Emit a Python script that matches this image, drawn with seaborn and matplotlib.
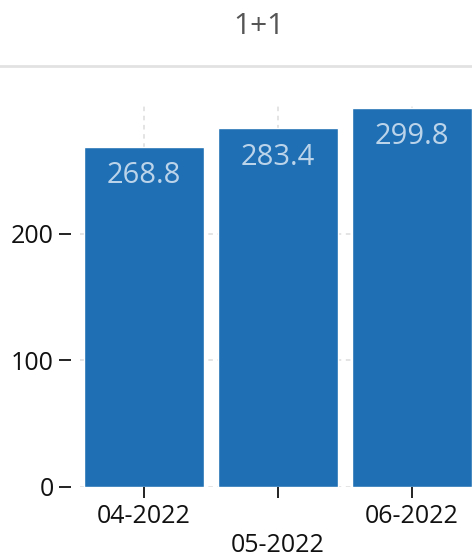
import matplotlib
matplotlib.use("Agg")
import matplotlib.pyplot as plt
import seaborn as sns
import pandas as pd

months = ["04-2022", "05-2022", "06-2022"]
values = [268.8, 283.4, 299.8]
y_ticks = [0, 100, 200]
title = "1+1"

BAR_COLOR = "#1f6fb4"
LABEL_COLOR = "#bcd4ea"


def main():
    sns.set_theme(style="white")
    plt.rcParams["font.family"] = ["Open Sans", "DejaVu Sans"]

    df = pd.DataFrame({"month": months, "value": values})

    fig = plt.figure(figsize=(4.72, 5.6), dpi=100)
    W, H = 472, 560
    ax = fig.add_axes([80 / W, 1 - 487 / H, (472 - 80) / W, (487 - 106) / H])

    sns.barplot(data=df, x="month", y="value", color=BAR_COLOR, saturation=1,
                width=0.9, ax=ax, zorder=2)

    ax.set_xlim(-0.478, 2.448)
    ax.set_ylim(0, 301)
    ax.set_yticks(y_ticks)
    ax.set_xlabel("")
    ax.set_ylabel("")

    # stagger the middle label onto a second row
    ax.set_xticks(range(len(months)))
    ax.set_xticklabels([("\n" + m) if i % 2 else m for i, m in enumerate(months)])

    ax.set_axisbelow(True)
    ax.grid(True, axis="both", color="#dddddd", linestyle=(0, (3, 3)), linewidth=1.1)

    for s in ax.spines.values():
        s.set_visible(False)
    ax.spines["left"].set_position(("outward", 6.5))

    ax.tick_params(axis="y", which="major", left=True, length=8.5, width=1.3,
                   color="#111111", labelsize=18, labelcolor="#111111", pad=4)
    ax.tick_params(axis="x", which="major", bottom=True, length=8, width=1.3,
                   color="#111111", labelsize=18, labelcolor="#111111", pad=4.5)

    for i, v in enumerate(values):
        ax.annotate(f"{v:.1f}", (i, v), xytext=(0, -21), textcoords="offset points",
                    ha="center", va="center", fontsize=21, color=LABEL_COLOR,
                    fontweight="medium")

    fig.text(259 / W, 1 - 27 / H, title, ha="center", va="center",
             fontsize=21.5, color="#555555")
    fig.add_artist(plt.Line2D([0, 1], [1 - 66 / H, 1 - 66 / H], transform=fig.transFigure,
                              color="#e2e2e2", linewidth=2))

    fig.savefig("out.png", dpi=100)
    plt.close(fig)


if __name__ == "__main__":
    main()
